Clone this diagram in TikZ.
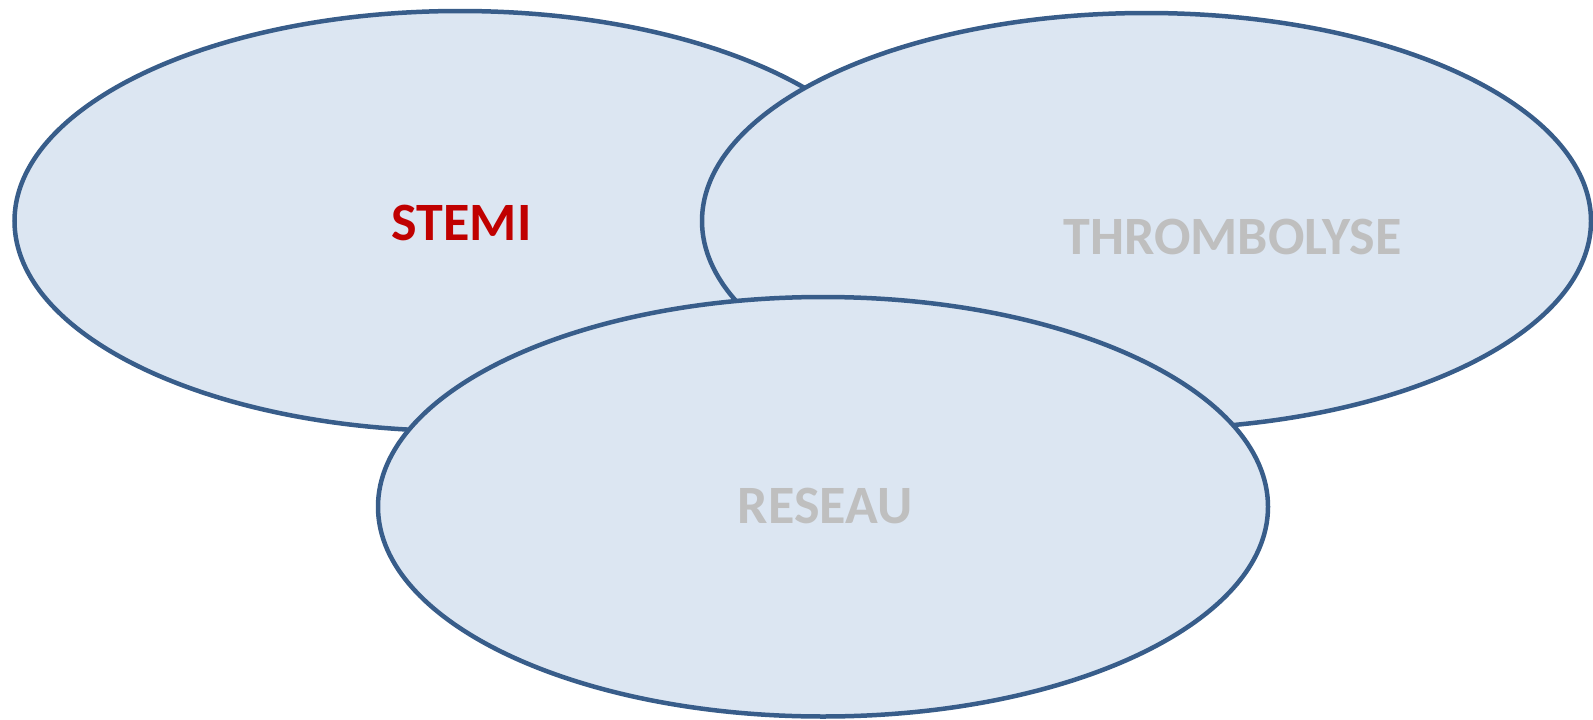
\documentclass[tikz,border=0pt]{standalone}
\usepackage{fontspec}
\setmainfont{Carlito}
\definecolor{setfill}{HTML}{DCE6F2}
\definecolor{setline}{HTML}{385D8A}
\definecolor{hotred}{HTML}{C00000}
\definecolor{softgray}{HTML}{BFBFBF}
\tikzset{
  setshape/.style={fill=setfill, draw=setline, line width=4.5pt},
  setlabel/.style={font=\fontsize{54}{58}\selectfont\bfseries, anchor=base, inner sep=0pt},
}
\begin{document}
\begin{tikzpicture}[x=1pt, y=-1pt]
  \useasboundingbox (0,0) rectangle (1593,720);
  % three overlapping sets, later ones on top
  \draw[setshape] (460,221) ellipse [x radius=445.5, y radius=210];
  \draw[setshape] (1146.5,221) ellipse [x radius=444.5, y radius=208];
  \draw[setshape] (823,506.75) ellipse [x radius=445, y radius=209.75];
  % set labels
  \node[setlabel, text=hotred] (stemi) at (461.5,240) {STEMI};
  \node[setlabel, text=softgray] (thrombo) at (1232.5,254) {THROMBOLYSE};
  \node[setlabel, text=softgray] (reseau) at (825,523) {RESEAU};
\end{tikzpicture}
\end{document}
